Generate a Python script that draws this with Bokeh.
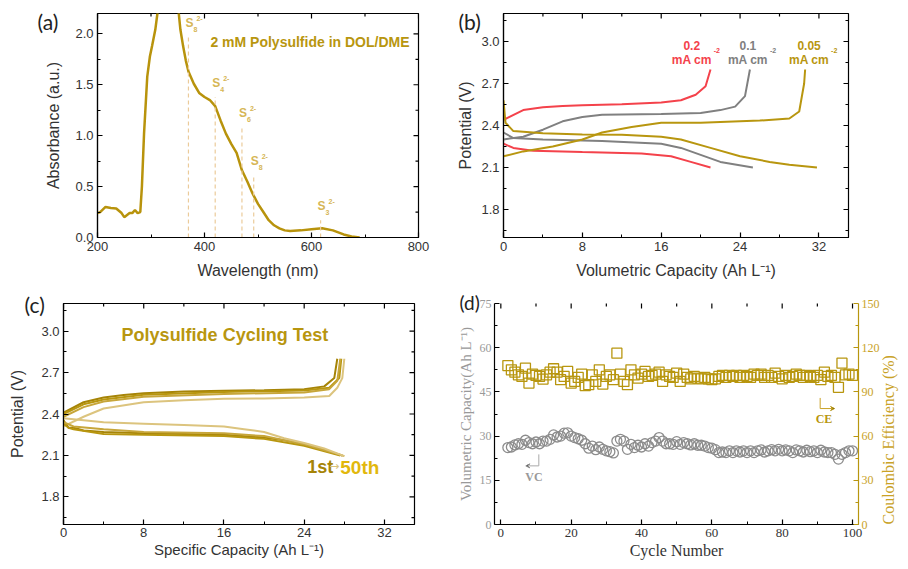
import math
from bokeh.plotting import figure
from bokeh.layouts import row, column
from bokeh.models import (Range1d, LinearAxis, FixedTicker, Arrow, VeeHead,
                          PrintfTickFormatter)
from bokeh.core.properties import value
from bokeh.embed import file_html
from bokeh.resources import INLINE

SANS = "Liberation Sans"
SERIF = "Liberation Serif"
GOLD = "#B8960F"
GOLD_LIGHT = "#D6B655"
DASH = "#EBCB9A"
RED = "#F4424B"
GRAY = "#808080"
TXT = "#333333"

# ---------------- (a) UV-vis ----------------
wl = [200, 205, 215, 225, 235, 245, 250, 260, 265, 270, 275, 280, 283, 287, 293, 298, 302, 308,
      312, 320, 330, 340, 350, 355, 360, 365, 370, 380, 390, 400, 410, 420, 430, 440, 450, 460,
      470, 480, 490, 500, 510, 520, 530, 540, 550, 560, 580, 600, 620, 640, 660, 675, 690]
absb = [0.24, 0.25, 0.30, 0.29, 0.285, 0.24, 0.20, 0.24, 0.24, 0.27, 0.24, 0.25, 0.50, 1.02, 1.58,
        1.78, 1.88, 2.04, 2.20, 2.60, 2.80, 2.70, 2.30, 2.04, 1.88, 1.74, 1.63, 1.51, 1.42, 1.38,
        1.35, 1.29, 1.15, 1.02, 0.92, 0.83, 0.66, 0.55, 0.43, 0.33, 0.25, 0.17, 0.12, 0.09, 0.07,
        0.065, 0.07, 0.08, 0.09, 0.07, 0.03, 0.01, 0.0]
peak_wl = [370, 420, 470, 492, 617]
peak_abs = [1.97, 1.38, 1.09, 0.61, 0.17]
peak_sub = ["8", "4", "6", "8", "3"]
a_xr = (200, 800)
a_yr = (0, 2.2)
a_xticks = [200, 400, 600, 800]
a_xminor = [300, 500, 700]
a_yticks = [0.0, 0.5, 1.0, 1.5, 2.0]
a_yminor = [0.25, 0.75, 1.25, 1.75]

# ---------------- (b) rate curves ----------------
b_red_ch_x = [0, 2, 4, 6, 8, 12, 16, 18, 19.5, 20.5, 21]
b_red_ch_y = [2.44, 2.51, 2.53, 2.54, 2.545, 2.552, 2.564, 2.58, 2.62, 2.68, 2.80]
b_red_dc_x = [0, 1, 3, 8, 14, 17, 19, 21]
b_red_dc_y = [2.27, 2.24, 2.22, 2.21, 2.20, 2.18, 2.14, 2.10]
b_gray_ch_x = [0, 2, 4, 6, 8, 10, 16, 20, 22, 23.5, 24.5, 25]
b_gray_ch_y = [2.30, 2.32, 2.37, 2.43, 2.46, 2.476, 2.483, 2.49, 2.51, 2.535, 2.61, 2.80]
b_gray_dc_x = [0, 1, 4, 10, 16, 18, 20, 22, 25.3]
b_gray_dc_y = [2.35, 2.31, 2.30, 2.29, 2.27, 2.24, 2.19, 2.14, 2.10]
b_gold_ch_x = [0, 2, 5, 8, 10, 13, 16, 20, 26, 29, 30, 30.5, 30.6]
b_gold_ch_y = [2.18, 2.215, 2.25, 2.30, 2.35, 2.39, 2.42, 2.42, 2.435, 2.45, 2.50, 2.70, 2.80]
b_gold_dc_x = [0, 0.2, 1, 4, 8, 12, 16, 18, 21, 24, 27, 29, 31.8]
b_gold_dc_y = [2.58, 2.42, 2.36, 2.345, 2.335, 2.334, 2.32, 2.30, 2.24, 2.18, 2.14, 2.12, 2.10]
rate_values = ["0.2", "0.1", "0.05"]
rate_x = [19.1, 24.8, 31.0]
rate_colors = [RED, GRAY, GOLD]
cap_xr = (0, 35)
pot_yr = (1.6, 3.2)
cap_xticks = [0, 8, 16, 24, 32]
cap_xminor = [4, 12, 20, 28]
pot_yticks = [1.8, 2.1, 2.4, 2.7, 3.0]
pot_yminor = [1.65, 1.95, 2.25, 2.55, 2.85, 3.15]

# ---------------- (c) cycling curves ----------------
c_ch = [
    ([0, 2, 4, 6, 8, 12, 16, 20, 24, 26, 27, 27.3],
     [2.41, 2.485, 2.52, 2.537, 2.55, 2.563, 2.568, 2.572, 2.58, 2.60, 2.66, 2.80]),
    ([0, 2, 4, 8, 16, 24, 26.5, 27.5, 27.7],
     [2.40, 2.47, 2.505, 2.54, 2.56, 2.57, 2.59, 2.66, 2.80]),
    ([0, 2, 4, 8, 16, 24, 26.5, 27.3, 27.6],
     [2.38, 2.45, 2.49, 2.525, 2.545, 2.556, 2.58, 2.64, 2.80]),
    ([0, 2, 4, 8, 12, 16, 20, 24, 26.5, 27.3, 27.8, 28.0],
     [2.31, 2.38, 2.44, 2.485, 2.50, 2.51, 2.513, 2.52, 2.53, 2.59, 2.66, 2.80]),
]
c_dc = [
    ([0, 0.5, 1, 2, 4, 8, 12, 16, 20, 22, 24, 26, 27.8],
     [2.355, 2.30, 2.30, 2.28, 2.27, 2.26, 2.256, 2.25, 2.23, 2.21, 2.18, 2.14, 2.10]),
    ([0, 0.5, 1, 4, 8, 16, 20, 24, 27.6],
     [2.33, 2.30, 2.29, 2.256, 2.25, 2.24, 2.22, 2.17, 2.10]),
    ([0, 1, 4, 8, 16, 20, 24, 28],
     [2.34, 2.31, 2.29, 2.27, 2.26, 2.24, 2.18, 2.095]),
    ([0, 2, 4, 8, 12, 16, 18, 20, 22, 24, 26, 28],
     [2.37, 2.355, 2.34, 2.33, 2.32, 2.31, 2.29, 2.27, 2.225, 2.19, 2.15, 2.095]),
]
c_colors = ["#A68407", "#B8960F", "#C7A63A", "#DCC47E"]

# ---------------- (d) cycling ----------------
cycles = list(range(2, 101))
vc = [26.1, 26.3, 27.0, 27.4, 27.2, 28.6, 27.8, 27.4, 28.0, 27.4,
      28.3, 28.3, 28.9, 30.4, 29.7, 30.0, 31.0, 31.1, 30.0, 29.5,
      29.1, 28.6, 27.4, 25.9, 26.6, 25.4, 26.3, 25.5, 25.0, 24.7,
      24.3, 28.3, 28.9, 28.3, 25.5, 27.2, 26.1, 26.9, 26.3, 27.4,
      26.6, 27.8, 28.3, 29.5, 28.3, 27.4, 27.4, 27.2, 28.1, 27.2,
      27.8, 27.4, 27.0, 27.4, 26.9, 26.9, 26.6, 26.1, 25.9, 25.4,
      24.4, 24.6, 24.4, 25.0, 24.4, 25.0, 24.6, 25.0, 24.4, 25.0,
      24.4, 25.0, 25.3, 24.6, 25.0, 25.4, 25.0, 25.5, 25.0, 25.3,
      25.0, 24.4, 25.3, 25.0, 24.6, 25.2, 24.7, 25.0, 24.4, 25.2,
      24.6, 24.4, 24.4, 23.8, 22.2, 23.8, 24.4, 25.0, 25.0]
ce = [107.9, 105.0, 103.4, 101.6, 100.5, 106.1, 96.0, 102.1, 101.2, 100.5,
      98.7, 101.6, 103.4, 105.7, 103.4, 98.3, 100.5, 103.9, 96.0, 97.1,
      99.8, 102.1, 94.2, 94.9, 101.6, 97.1, 105.0, 95.3, 100.5, 101.6,
      98.3, 116.3, 102.1, 97.1, 94.9, 105.0, 101.6, 99.4, 102.1, 103.9,
      100.5, 101.2, 102.1, 103.4, 97.1, 101.6, 100.5, 99.8, 102.8, 97.1,
      102.1, 99.8, 98.9, 100.5, 99.4, 98.9, 99.8, 98.9, 98.3, 98.9,
      100.5, 101.2, 99.8, 101.2, 100.5, 101.2, 99.8, 101.2, 100.5, 99.8,
      102.1, 101.2, 102.1, 99.8, 101.2, 99.8, 102.8, 100.5, 98.9, 101.2,
      99.8, 100.5, 102.1, 101.2, 99.8, 101.2, 100.5, 99.8, 101.2, 98.3,
      103.4, 100.5, 101.2, 99.8, 93.1, 109.5, 101.6, 102.1, 101.2]
d_xr = (-1.8, 101.7)
d_lr = (0, 75)
d_rr = (0, 150)
d_xticks = [0, 20, 40, 60, 80, 100]
d_xminor = [10, 30, 50, 70, 90]
d_lticks = [0, 15, 30, 45, 60, 75]
d_lminor = [7.5, 22.5, 37.5, 52.5, 67.5]
d_rticks = [0, 30, 60, 90, 120, 150]
d_rminor = [15, 45, 75, 105, 135]


def make_fig(w, h, xr, yr, bl, br, bt, bb, outline=True):
    p = figure(width=w, height=h, x_range=Range1d(*xr), y_range=Range1d(*yr),
               output_backend="svg", toolbar_location=None,
               min_border_left=bl, min_border_right=br, min_border_top=bt, min_border_bottom=bb)
    p.xgrid.visible = False
    p.ygrid.visible = False
    p.outline_line_color = "black" if outline else None
    p.outline_line_width = 1.2
    p.background_fill_color = "white"
    p.border_fill_color = "white"
    return p


def style_axis(ax, ticks, minor, font, tsize, lsize, color=TXT, lcolor="black",
               lstand=6, tstand=4, fmt=None):
    ax.ticker = FixedTicker(ticks=ticks, minor_ticks=minor)
    if fmt:
        ax.formatter = PrintfTickFormatter(format=fmt)
    ax.major_tick_in = 5
    ax.major_tick_out = 0
    ax.minor_tick_in = 3
    ax.minor_tick_out = 0
    ax.axis_line_color = lcolor
    ax.major_tick_line_color = lcolor
    ax.minor_tick_line_color = lcolor
    ax.axis_line_width = 1.2
    ax.major_tick_line_width = 1.2
    ax.major_label_text_font = font
    ax.major_label_text_font_size = tsize
    ax.major_label_text_color = color
    ax.axis_label_text_font = font
    ax.axis_label_text_font_size = lsize
    ax.axis_label_text_font_style = "normal"
    ax.axis_label_text_color = color
    ax.major_label_standoff = tstand
    ax.axis_label_standoff = lstand


def mirror_ticks(p, xticks, xminor, yticks, yminor, xr, yr, color="black"):
    if xticks:
        p.scatter(x=xticks, y=[yr[1]] * len(xticks), marker="dash", angle=math.pi / 2,
                  size=10, line_color=color, line_width=1.2)
        p.scatter(x=xminor, y=[yr[1]] * len(xminor), marker="dash", angle=math.pi / 2,
                  size=6, line_color=color, line_width=1.2)
    if yticks:
        p.scatter(x=[xr[1]] * len(yticks), y=yticks, marker="dash", size=10,
                  line_color=color, line_width=1.2)
        p.scatter(x=[xr[1]] * len(yminor), y=yminor, marker="dash", size=6,
                  line_color=color, line_width=1.2)


def letter_title(p, txt, offset, standoff, size="21px"):
    p.title.text = txt
    p.title.align = "left"
    p.title.offset = offset
    p.title.standoff = standoff
    p.title.vertical_align = "bottom"
    p.title.text_font = "Lato"
    p.title.text_font_size = size
    p.title.text_font_style = "normal"
    p.title.text_color = "#222222"


# ---------- figure (a) ----------
pa = make_fig(454, 284, a_xr, a_yr, 97, 36, 13, 47)
pa.line(wl, absb, line_color="#B8930C", line_width=2.5)
pa.segment(x0=peak_wl, y0=[0] * len(peak_wl), x1=peak_wl, y1=peak_abs,
           line_color=DASH, line_width=1.2, line_dash="4 3")
pa.text(x=peak_wl, y=peak_abs, text=["S"] * len(peak_wl), text_font=value(SANS),
        text_font_style="bold", text_font_size="12px", text_color=GOLD_LIGHT,
        text_align="left", text_baseline="bottom", x_offset=-3, y_offset=-7)
pa.text(x=peak_wl, y=peak_abs, text=peak_sub, text_font=value(SANS),
        text_font_style="bold", text_font_size="7px", text_color=GOLD_LIGHT,
        text_align="left", text_baseline="bottom", x_offset=5, y_offset=-5)
pa.text(x=peak_wl, y=peak_abs, text=["2-"] * len(peak_wl), text_font=value(SANS),
        text_font_style="bold", text_font_size="7px", text_color=GOLD_LIGHT,
        text_align="left", text_baseline="bottom", x_offset=8, y_offset=-16)
pa.text(x=[411], y=[1.92], text=["2 mM Polysulfide in DOL/DME"], text_font=value(SANS),
        text_font_style="bold", text_font_size="14px", text_color=GOLD,
        text_align="left", text_baseline="middle")
style_axis(pa.xaxis[0], a_xticks, a_xminor, SANS, "13px", "16px", lstand=8)
style_axis(pa.yaxis[0], a_yticks, a_yminor, SANS, "13px", "16px", lstand=10, fmt="%.1f")
pa.xaxis[0].axis_label = "Wavelength (nm)"
pa.yaxis[0].axis_label = "Absorbance (a.u.)"
mirror_ticks(pa, a_xticks, a_xminor, a_yticks, a_yminor, a_xr, a_yr)
letter_title(pa, "(a)", -60, -40)

# ---------- figure (b) ----------
pb = make_fig(454, 284, cap_xr, pot_yr, 45, 60, 13, 46)
for xs, ys, col in [(b_red_ch_x, b_red_ch_y, RED), (b_red_dc_x, b_red_dc_y, RED),
                    (b_gray_ch_x, b_gray_ch_y, GRAY), (b_gray_dc_x, b_gray_dc_y, GRAY),
                    (b_gold_ch_x, b_gold_ch_y, GOLD), (b_gold_dc_x, b_gold_dc_y, GOLD)]:
    pb.line(xs, ys, line_color=col, line_width=2)
pb.text(x=rate_x, y=[2.97] * 3, text=rate_values, text_font=value(SANS), text_font_style="bold",
        text_font_size="12px", text_color=rate_colors, text_align="center", text_baseline="middle")
pb.text(x=rate_x, y=[2.87] * 3, text=["mA cm"] * 3, text_font=value(SANS), text_font_style="bold",
        text_font_size="12px", text_color=rate_colors, text_align="center", text_baseline="middle")
pb.text(x=rate_x, y=[2.87] * 3, text=["-2"] * 3, text_font=value(SANS), text_font_style="bold",
        text_font_size="7px", text_color=rate_colors, text_align="left", text_baseline="middle",
        x_offset=22, y_offset=-9)
style_axis(pb.xaxis[0], cap_xticks, cap_xminor, SANS, "13px", "16px", lstand=8)
style_axis(pb.yaxis[0], pot_yticks, pot_yminor, SANS, "13px", "16px", lstand=4, fmt="%.1f")
pb.xaxis[0].axis_label = "Volumetric Capacity (Ah L⁻¹)"
pb.yaxis[0].axis_label = "Potential (V)"
mirror_ticks(pb, cap_xticks, cap_xminor, pot_yticks, pot_yminor, cap_xr, pot_yr)
letter_title(pb, "(b)", -45, -40)

# ---------- figure (c) ----------
pc = make_fig(454, 285, cap_xr, pot_yr, 63, 40, 17, 38)
for (xs, ys), col in zip(c_ch, c_colors):
    pc.line(xs, ys, line_color=col, line_width=2)
for (xs, ys), col in zip(c_dc, c_colors):
    pc.line(xs, ys, line_color=col, line_width=2)
pc.text(x=[16.1], y=[2.97], text=["Polysulfide Cycling Test"], text_font=value(SANS),
        text_font_style="bold", text_font_size="18px", text_color=GOLD,
        text_align="center", text_baseline="middle")
pc.text(x=[24.3], y=[2.015], text=["1st"], text_font=value(SANS), text_font_style="bold",
        text_font_size="18px", text_color="#A68407", text_align="left", text_baseline="middle")
pc.text(x=[26.5], y=[2.025], text=["→"], text_font=value("DejaVu Sans"),
        text_font_size="12px", text_color="#D9C27A", text_align="left", text_baseline="middle")
pc.text(x=[27.6], y=[2.015], text=["50th"], text_font=value(SANS), text_font_style="bold",
        text_font_size="19px", text_color="#E2B80C", text_align="left", text_baseline="middle")
style_axis(pc.xaxis[0], cap_xticks, cap_xminor, SANS, "13px", "15px", lstand=1, tstand=3)
style_axis(pc.yaxis[0], pot_yticks, pot_yminor, SANS, "13px", "16px", lstand=12, fmt="%.1f")
pc.xaxis[0].axis_label = "Specific Capacity (Ah L⁻¹)"
pc.yaxis[0].axis_label = "Potential (V)"
mirror_ticks(pc, cap_xticks, cap_xminor, pot_yticks, pot_yminor, cap_xr, pot_yr)
letter_title(pc, "(c)", -39, -26)

# ---------- figure (d) ----------
pd_ = make_fig(454, 285, d_xr, d_lr, 34, 50, 19, 45, outline=False)
pd_.extra_y_ranges = {"ce": Range1d(*d_rr)}
pd_.scatter(cycles, vc, marker="circle", size=10, line_color="#8C8C8C", line_width=1.3,
            fill_color=None)
pd_.scatter(cycles, ce, marker="square", size=10, line_color=GOLD, line_width=1.3,
            fill_color=None, y_range_name="ce")
style_axis(pd_.xaxis[0], d_xticks, d_xminor, SERIF, "13px", "16px", lstand=2)
style_axis(pd_.yaxis[0], d_lticks, d_lminor, SERIF, "12px", "15px", color="#999999",
           lstand=3, tstand=3)
pd_.xaxis[0].axis_label = "Cycle Number"
pd_.yaxis[0].axis_label = "Volumetric Capacity(Ah L⁻¹)"
rax = LinearAxis(y_range_name="ce")
style_axis(rax, d_rticks, d_rminor, SERIF, "12px", "16px", color="#C9A227", lcolor=GOLD,
           lstand=6, tstand=3)
rax.axis_label = "Coulombic Efficiency (%)"
try:
    rax.axis_label_align = "start"
    rax.axis_label_orientation = math.pi / 2
except AttributeError:
    pass
pd_.add_layout(rax, "right")
mirror_ticks(pd_, d_xticks, d_xminor, None, None, d_xr, d_lr)
pd_.text(x=[9.4], y=[16], text=["VC"], text_font=value(SERIF), text_font_style="bold",
         text_font_size="12px", text_color="#999999", text_align="center", text_baseline="middle")
pd_.segment(x0=[10.8], y0=[23.8], x1=[10.8], y1=[19.9], line_color="#AAAAAA", line_width=1)
pd_.add_layout(Arrow(end=VeeHead(size=4, line_color="#888888", line_width=1), x_start=10.8,
                     y_start=19.9, x_end=7.1, y_end=19.9, line_color="#AAAAAA", line_width=1))
pd_.text(x=[91.9], y=[71.3], text=["CE"], text_font=value(SERIF), text_font_style="bold",
         text_font_size="12px", text_color=GOLD, text_align="center", text_baseline="middle",
         y_range_name="ce")
pd_.segment(x0=[90.8], y0=[85.9], x1=[90.8], y1=[78.7], line_color="#C9A227", line_width=1,
            y_range_name="ce")
pd_.add_layout(Arrow(end=VeeHead(size=4, line_color=GOLD, line_width=1), x_start=90.8,
                     y_start=78.7, x_end=94.9, y_end=78.7, line_color="#C9A227", line_width=1,
                     y_range_name="ce"))
letter_title(pd_, "(d)", -35, -20, size="19px")

layout = column(row(pa, pb), row(pc, pd_))
open("out.html", "w").write(file_html(layout, INLINE))
